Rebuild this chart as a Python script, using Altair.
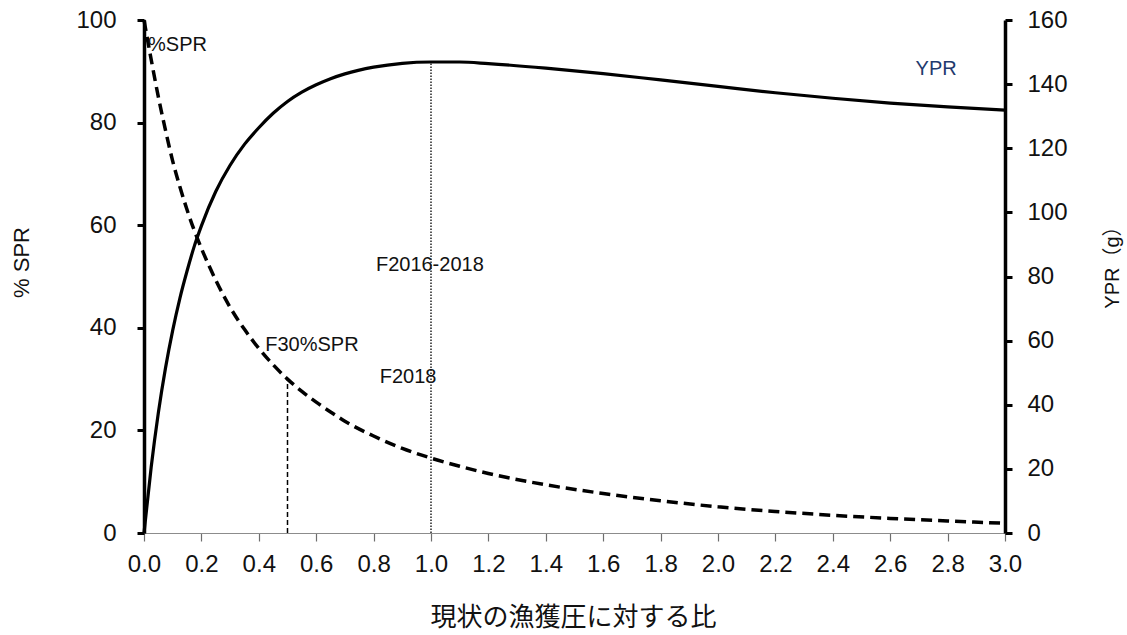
import altair as alt
import pandas as pd

# Fishing pressure relative to the current level (F / Fcurrent)
f_ratio = [0.0, 0.025, 0.05, 0.075, 0.1, 0.125, 0.15, 0.175, 0.2, 0.25, 0.3, 0.35, 0.4, 0.45,
           0.5, 0.55, 0.6, 0.65, 0.7, 0.8, 0.9, 1.0, 1.1, 1.2, 1.4, 1.6, 1.8, 2.0, 2.2, 2.4,
           2.6, 2.8, 3.0]
# Spawning potential ratio (%)
spr = [100, 92.3, 85, 78.5, 72.5, 67.5, 63, 59, 55.5, 49.3, 44, 39.7, 36, 32.8,
       30, 27.6, 25.5, 23.6, 21.8, 18.9, 16.5, 14.6, 13.0, 11.6, 9.4, 7.7, 6.3, 5.1, 4.2, 3.45,
       2.85, 2.35, 1.9]
# Yield per recruit (g)
ypr = [0, 20.5, 37.5, 51.5, 63.2, 73.2, 81.7, 89.4, 95.8, 106.5, 114.7, 121.2, 126.4, 130.9,
       134.6, 137.5, 139.8, 141.7, 143.2, 145.3, 146.5, 146.9, 146.9, 146.4, 145.0, 143.3,
       141.3, 139.3, 137.3, 135.6, 134.1, 132.9, 131.9]

# Reference fishing levels
f30_ratio = 0.5
f30_spr = 30
fcur_ratio = 1.0
fcur_ypr = 146.9

# Annotation texts and their anchor points (F ratio, %SPR)
ann_text = ["%SPR", "F2016-2018", "F30%SPR", "F2018"]
ann_f = [0.014, 0.996, 0.585, 0.92]
ann_spr = [95.1, 52.2, 36.6, 30.4]
ann_align = ["left", "center", "center", "center"]

curves = pd.DataFrame({"F": f_ratio, "SPR": spr, "YPR": ypr})
notes = pd.DataFrame({"F": ann_f, "SPR": ann_spr, "label": ann_text, "align": ann_align})
ypr_note = pd.DataFrame({"F": [2.76], "SPR": [90.4], "label": ["YPR"]})
f30_df = pd.DataFrame({"F": [f30_ratio], "lo": [0], "hi": [f30_spr]})
fcur_df = pd.DataFrame({"F": [fcur_ratio], "lo": [0], "hi": [fcur_ypr]})

TICK_FONT = "Liberation Sans"
CJK_FONT = "Noto Sans CJK JP"

x_ticks = [round(i * 0.2, 1) for i in range(16)]
x_enc = alt.X(
    "F:Q",
    scale=alt.Scale(domain=[0, 3], nice=False, zero=False),
    axis=alt.Axis(
        values=x_ticks, format=".1f", title="現状の漁獲圧に対する比",
        grid=False, domainColor="#8c8c8c", domainWidth=1.2,
        tickColor="#6e6e6e", tickWidth=1.2, tickSize=8,
        labelFont=TICK_FONT, labelFontSize=24, labelColor="#111111", labelPadding=11,
        labelFlush=False, labelOverlap=False,
        titleFont=CJK_FONT, titleFontSize=26, titleFontWeight="normal", titleColor="#111111",
        titleX=429, titleY=84, titleBaseline="middle", titleAnchor="middle",
    ),
)

left_axis = alt.Axis(
    values=[0, 20, 40, 60, 80, 100], title="% SPR", grid=False,
    domainColor="black", domainWidth=3.5, tickColor="black", tickWidth=3, tickSize=7,
    labelFont=TICK_FONT, labelFontSize=24, labelColor="#111111", labelPadding=21,
    labelFlush=False, labelOverlap=False,
    titleFont=TICK_FONT, titleFontSize=22, titleFontWeight="normal", titleColor="#111111",
    titleX=-123, titleY=242, titleAngle=270, titleBaseline="middle", titleAlign="center",
)
right_axis = alt.Axis(
    orient="right", values=[0, 20, 40, 60, 80, 100, 120, 140, 160], title="YPR（g）", grid=False,
    domainColor="black", domainWidth=3.5, tickColor="black", tickWidth=3, tickSize=7,
    labelFont=TICK_FONT, labelFontSize=24, labelColor="#111111", labelPadding=15,
    labelFlush=False, labelOverlap=False,
    titleFont=f"{TICK_FONT}, {CJK_FONT}", titleFontSize=20, titleFontWeight="normal",
    titleColor="#111111",
    titleX=107, titleY=242, titleAngle=270, titleBaseline="middle", titleAlign="center",
)
spr_scale = alt.Scale(domain=[0, 100], nice=False)
ypr_scale = alt.Scale(domain=[0, 160], nice=False)

spr_line = alt.Chart(curves).mark_line(
    color="black", strokeWidth=3.5, strokeDash=[11, 6], interpolate="monotone"
).encode(x=x_enc, y=alt.Y("SPR:Q", scale=spr_scale, axis=left_axis))

f30_rule = alt.Chart(f30_df).mark_rule(
    color="black", strokeWidth=1.5, strokeDash=[5, 3]
).encode(x="F:Q", y=alt.Y("lo:Q", scale=spr_scale, axis=left_axis), y2="hi:Q")

# centred labels at the reference levels, and the left-anchored "%SPR" curve label
note_center = alt.Chart(notes[notes["align"] == "center"]).mark_text(
    font=TICK_FONT, fontSize=20, color="#111111", baseline="middle", align="center"
).encode(x="F:Q", y=alt.Y("SPR:Q", scale=spr_scale, axis=left_axis), text="label:N")
note_left = alt.Chart(notes[notes["align"] == "left"]).mark_text(
    font=TICK_FONT, fontSize=20, color="#111111", baseline="middle", align="left"
).encode(x="F:Q", y=alt.Y("SPR:Q", scale=spr_scale, axis=left_axis), text="label:N")
ypr_label = alt.Chart(ypr_note).mark_text(
    font=TICK_FONT, fontSize=20, color="#1f3a6e", baseline="middle", align="center"
).encode(x="F:Q", y=alt.Y("SPR:Q", scale=spr_scale, axis=left_axis), text="label:N")

ypr_line = alt.Chart(curves).mark_line(
    color="black", strokeWidth=3.2, interpolate="monotone"
).encode(x=x_enc, y=alt.Y("YPR:Q", scale=ypr_scale, axis=right_axis))

fcur_rule = alt.Chart(fcur_df).mark_rule(
    color="#222222", strokeWidth=1.5, strokeDash=[1.5, 1.5]
).encode(x="F:Q", y=alt.Y("lo:Q", scale=ypr_scale, axis=right_axis), y2="hi:Q")

left = alt.layer(f30_rule, spr_line, note_center, note_left, ypr_label)
right = alt.layer(fcur_rule, ypr_line)

chart = (
    alt.layer(left, right)
    .resolve_scale(y="independent")
    .properties(
        width=861, height=513,
        autosize=alt.AutoSizeParams(type="none"),
        padding={"left": 144, "top": 20, "right": 122, "bottom": 102},
        background="white",
    )
    .configure_view(stroke=None)
)

chart.save("out.html", embed_options={"renderer": "svg", "actions": False})
